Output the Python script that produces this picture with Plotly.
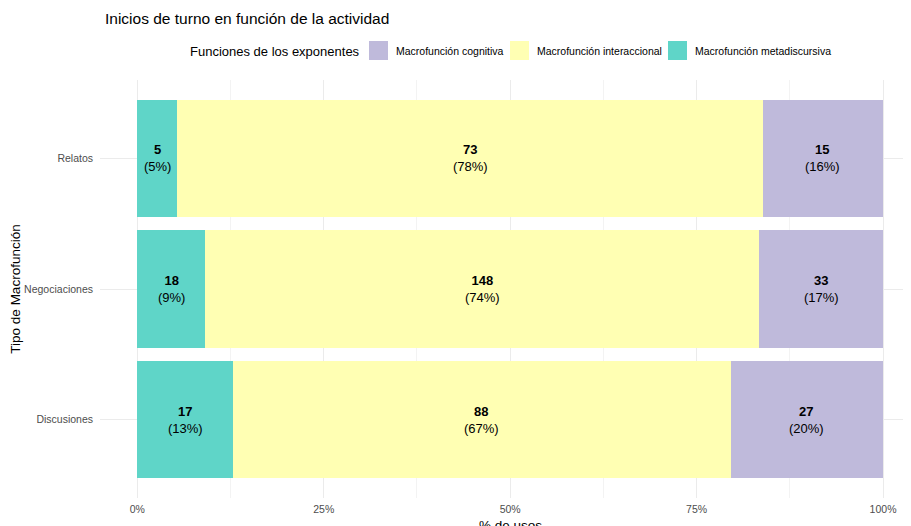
import plotly.graph_objects as go

categories = ["Discusiones", "Negociaciones", "Relatos"]
series_names = ["Macrofunción metadiscursiva", "Macrofunción interaccional", "Macrofunción cognitiva"]
metadiscursiva = [17, 18, 5]
interaccional = [88, 148, 73]
cognitiva = [27, 33, 15]
colors = ["#5fd5c8", "#ffffb3", "#bfbadb"]
x_ticks = [0, 0.25, 0.5, 0.75, 1.0]
x_tick_labels = ["0%", "25%", "50%", "75%", "100%"]
legend_title = "Funciones de los exponentes"
x_title = "% de usos"

series = [metadiscursiva, interaccional, cognitiva]
totals = [sum(v) for v in zip(*series)]

# page body has an 8px margin; figure is sized so it ends at the window edge
OFF = 8
W, H = 911 - OFF, 526 - OFF
ML, MR, MT, MB = 92, 0, 72, 28
PW, PH = W - ML - MR, H - MT - MB


def px(xw):  # window x -> paper x
    return (xw - OFF - ML) / PW


def py(yw):  # window y -> paper y
    return 1 - (yw - OFF - MT) / PH


fig = go.Figure()
font = "Liberation Sans, Arial, sans-serif"

annotations = []
shapes = []
for name, vals, col in zip(series_names, series, colors):
    props = [v / t for v, t in zip(vals, totals)]
    fig.add_trace(go.Bar(
        y=categories, x=props, name=name, orientation="h",
        marker=dict(color=col, line=dict(width=0)), width=0.9,
        showlegend=False, hoverinfo="skip",
    ))

# labels inside bars
cum = [0.0] * len(categories)
for vals in series:
    for i, (v, t) in enumerate(zip(vals, totals)):
        p = v / t
        mid = cum[i] + p / 2
        cum[i] += p
        annotations.append(dict(
            x=mid, y=categories[i], xref="x", yref="y",
            text=f"<b>{v}</b><br>({round(p*100)}%)", showarrow=False,
            font=dict(family=font, size=13, color="#000000"), align="center",
        ))

# manual legend (top, horizontal)
leg_y = 51
annotations.append(dict(
    x=px(188), y=py(leg_y), xref="paper", yref="paper", xanchor="left", yanchor="middle",
    text=legend_title, showarrow=False, font=dict(family=font, size=13, color="#000000")))
key_x = [369, 510, 668]
for kx, (name, col) in zip(key_x, reversed(list(zip(series_names, colors)))):
    shapes.append(dict(type="rect", xref="paper", yref="paper",
                       x0=px(kx), x1=px(kx + 19), y0=py(60), y1=py(41),
                       fillcolor=col, line=dict(width=0)))
    annotations.append(dict(
        x=px(kx + 25), y=py(leg_y), xref="paper", yref="paper", xanchor="left", yanchor="middle",
        text=name, showarrow=False, font=dict(family=font, size=10.5, color="#000000")))

# x-axis title (partly cut by the bottom edge, as in the reference)
annotations.append(dict(
    x=px(510), y=py(516), xref="paper", yref="paper", xanchor="center", yanchor="top",
    text=x_title, showarrow=False, font=dict(family=font, size=13.5, color="#000000")))

fig.update_layout(
    width=W, height=H,
    margin=dict(l=ML, r=MR, t=MT, b=MB, autoexpand=False),
    paper_bgcolor="white", plot_bgcolor="white",
    barmode="stack",
    bargap=0.1,
    showlegend=False,
    font=dict(family=font, color="#000000"),
    title=dict(text="Inicios de turno en función de la actividad", x=(105 - OFF) / W, xanchor="left",
               y=1 - (19 - OFF) / H, yanchor="middle", font=dict(size=15.5, color="#000000")),
    xaxis=dict(range=[-0.05, 1.0375], tickvals=x_ticks, ticktext=x_tick_labels, automargin=False,
               showgrid=True, gridcolor="#ebebeb", gridwidth=1, zeroline=False,
               minor=dict(tickvals=[0.125, 0.375, 0.625, 0.875], showgrid=True, gridcolor="#f3f3f3", gridwidth=0.6),
               tickfont=dict(size=10.5, color="#4d4d4d"), ticks="", ticklabelstandoff=3),
    yaxis=dict(categoryorder="array", categoryarray=categories, range=[-0.6, 2.6], automargin=False,
               showgrid=True, gridcolor="#ebebeb", gridwidth=1, zeroline=False,
               tickfont=dict(size=10.5, color="#4d4d4d"), ticks="", ticklabelstandoff=6,
               title=dict(text="Tipo de Macrofunción", font=dict(size=13.5), standoff=4)),
    annotations=annotations,
    shapes=shapes,
)

fig.write_html("out.html")
